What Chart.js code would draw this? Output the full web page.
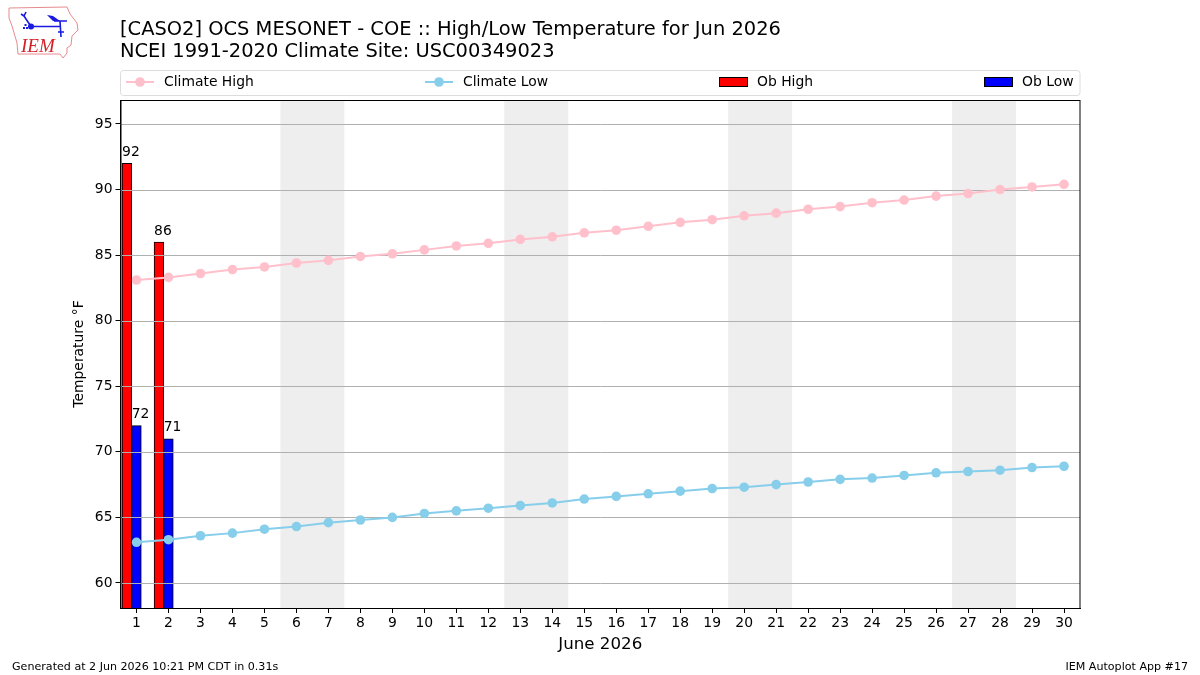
<!DOCTYPE html>
<html>
<head>
<meta charset="utf-8">
<title>High/Low Temperature</title>
<script src="https://cdn.jsdelivr.net/npm/chart.js@4"></script>
<style>
  html, body { margin: 0; padding: 0; background: #fff; }
  canvas { display: block; }
</style>
</head>
<body>
<canvas id="chart" width="1200" height="675"></canvas>
<script>
const days = [1, 2, 3, 4, 5, 6, 7, 8, 9, 10, 11, 12, 13, 14, 15, 16, 17, 18, 19, 20, 21, 22, 23, 24, 25, 26, 27, 28, 29, 30];
const climateHigh = [83.1, 83.3, 83.6, 83.9, 84.1, 84.4, 84.6, 84.9, 85.1, 85.4, 85.7, 85.9, 86.2, 86.4, 86.7, 86.9, 87.2, 87.5, 87.7, 88.0, 88.2, 88.5, 88.7, 89.0, 89.2, 89.5, 89.7, 90.0, 90.2, 90.4];
const climateLow = [63.1, 63.3, 63.6, 63.8, 64.1, 64.3, 64.6, 64.8, 65.0, 65.3, 65.5, 65.7, 65.9, 66.1, 66.4, 66.6, 66.8, 67.0, 67.2, 67.3, 67.5, 67.7, 67.9, 68.0, 68.2, 68.4, 68.5, 68.6, 68.8, 68.9];
const obHigh = [92, 86];
const obLow = [72, 71];
const yTicks = [60, 65, 70, 75, 80, 85, 90, 95];
const weekends = [[6, 7], [13, 14], [20, 21], [27, 28]];

const FONT = '"DejaVu Sans", sans-serif';
const titleLines = [
  "[CASO2] OCS MESONET - COE :: High/Low Temperature for Jun 2026",
  "NCEI 1991-2020 Climate Site: USC00349023",
];

// grey bands behind the weekends
const weekendBands = {
  id: "weekendBands",
  beforeDraw(chart) {
    const { ctx, chartArea, scales } = chart;
    const half = (scales.x.getPixelForValue(1) - scales.x.getPixelForValue(0)) / 2;
    ctx.save();
    ctx.fillStyle = "#eeeeee";
    weekends.forEach(([first, last]) => {
      const left = scales.x.getPixelForValue(days.indexOf(first)) - half;
      const right = scales.x.getPixelForValue(days.indexOf(last)) + half;
      ctx.fillRect(left, chartArea.top, right - left, chartArea.height);
    });
    ctx.restore();
  },
};

// horizontal grid goes over the bars but under the climate lines
const midGrid = {
  id: "midGrid",
  beforeDatasetDraw(chart, args) {
    if (args.meta.type !== "line" || args.index !== 1) return;
    const { ctx, chartArea, scales } = chart;
    ctx.save();
    ctx.strokeStyle = "#b0b0b0";
    ctx.lineWidth = 1;
    yTicks.forEach((t) => {
      const y = Math.round(scales.y.getPixelForValue(t)) + 0.5;
      ctx.beginPath();
      ctx.moveTo(chartArea.left, y);
      ctx.lineTo(chartArea.right, y);
      ctx.stroke();
    });
    ctx.restore();
  },
};

// value labels sit above the bars, left aligned with the bar edge
const barLabels = {
  id: "barLabels",
  afterDatasetsDraw(chart) {
    const { ctx } = chart;
    ctx.save();
    ctx.fillStyle = "#000";
    ctx.font = "13.9px " + FONT;
    ctx.textAlign = "left";
    ctx.textBaseline = "bottom";
    chart.data.datasets.forEach((ds, i) => {
      if (ds.type !== "bar") return;
      chart.getDatasetMeta(i).data.forEach((bar, j) => {
        if (ds.data[j] == null) return;
        ctx.fillText(String(ds.data[j]), bar.x - bar.width / 2, bar.y - 4);
      });
    });
    ctx.restore();
  },
};

const drawLogo = (ctx) => {
  ctx.save();
  ctx.strokeStyle = "#e58a8f";
  ctx.lineWidth = 1;
  ctx.beginPath();
  ctx.moveTo(9, 8);
  ctx.lineTo(67, 7);
  ctx.lineTo(70, 14);
  ctx.lineTo(77, 23);
  ctx.lineTo(78, 30);
  ctx.lineTo(72, 36);
  ctx.lineTo(71, 45);
  ctx.lineTo(67, 48);
  ctx.lineTo(67, 53);
  ctx.lineTo(63, 58);
  ctx.lineTo(60, 54);
  ctx.lineTo(18, 54);
  ctx.lineTo(17, 43);
  ctx.lineTo(12, 26);
  ctx.lineTo(9, 18);
  ctx.closePath();
  ctx.stroke();

  ctx.strokeStyle = "#1a1ae0";
  ctx.fillStyle = "#1a1ae0";
  ctx.lineWidth = 1.6;
  ctx.beginPath();
  ctx.moveTo(31, 26.5);
  ctx.lineTo(60, 26.5);
  ctx.moveTo(60, 21);
  ctx.lineTo(61, 37);
  ctx.moveTo(31, 26.5);
  ctx.lineTo(24, 16);
  ctx.moveTo(24, 16);
  ctx.lineTo(21, 14);
  ctx.moveTo(24, 16);
  ctx.lineTo(26, 12);
  ctx.moveTo(54, 21);
  ctx.lineTo(67, 21);
  ctx.moveTo(58, 32);
  ctx.lineTo(64, 32);
  ctx.stroke();
  ctx.beginPath();
  ctx.arc(31, 26.5, 3, 0, Math.PI * 2);
  ctx.fill();
  // wing shape above the main bar and the small marks left of the dot
  ctx.beginPath();
  ctx.moveTo(47, 15);
  ctx.lineTo(53, 16);
  ctx.lineTo(60, 21);
  ctx.lineTo(53, 21);
  ctx.closePath();
  ctx.fill();
  ctx.fillRect(23, 27, 2, 2);
  ctx.fillRect(26, 27, 2, 2);
  ctx.fillRect(24.5, 24, 2, 2);

  ctx.fillStyle = "#d42027";
  ctx.font = 'italic 19px "Liberation Serif", serif';
  ctx.textAlign = "left";
  ctx.textBaseline = "alphabetic";
  ctx.fillText("IEM", 21, 52);
  ctx.restore();
};

// header, legend box, footer and the axes frame
const pageFurniture = {
  id: "pageFurniture",
  afterDraw(chart) {
    const { ctx, chartArea } = chart;
    ctx.save();

    ctx.strokeStyle = "#000";
    ctx.lineWidth = 1;
    ctx.strokeRect(chartArea.left + 0.5, chartArea.top + 0.5, chartArea.width - 0.5, chartArea.height);

    drawLogo(ctx);

    ctx.fillStyle = "#000";
    ctx.textAlign = "left";
    ctx.textBaseline = "alphabetic";
    ctx.font = "19.44px " + FONT;
    ctx.fillText(titleLines[0], 120, 35);
    ctx.fillText(titleLines[1], 120, 57);

    ctx.strokeStyle = "#dcdcdc";
    ctx.beginPath();
    ctx.roundRect(120.5, 70.5, 959.5, 25, 3);
    ctx.stroke();

    ctx.font = "13.9px " + FONT;
    ctx.textBaseline = "middle";
    chart.data.datasets.forEach((ds) => {
      if (ds.legendX == null) return;
      const y = 82;
      const x = ds.legendX;
      if (ds.type === "line") {
        ctx.strokeStyle = ds.borderColor;
        ctx.lineWidth = 2;
        ctx.beginPath();
        ctx.moveTo(x, y);
        ctx.lineTo(x + 28, y);
        ctx.stroke();
        ctx.fillStyle = ds.borderColor;
        ctx.beginPath();
        ctx.arc(x + 14, y, 4.8, 0, Math.PI * 2);
        ctx.fill();
      } else {
        ctx.fillStyle = ds.backgroundColor;
        ctx.strokeStyle = "#000";
        ctx.lineWidth = 1;
        ctx.fillRect(x + 0.5, y - 4.5, 28, 9);
        ctx.strokeRect(x + 0.5, y - 4.5, 28, 9);
      }
      ctx.fillStyle = "#000";
      ctx.fillText(ds.label, x + 38, y);
    });

    ctx.font = "11.1px " + FONT;
    ctx.textBaseline = "alphabetic";
    ctx.fillText("Generated at 2 Jun 2026 10:21 PM CDT in 0.31s", 12, 670);
    ctx.textAlign = "right";
    ctx.fillText("IEM Autoplot App #17", 1188, 670);
    ctx.restore();
  },
};

new Chart(document.getElementById("chart"), {
  type: "bar",
  data: {
    labels: days,
    datasets: [
      {
        type: "line",
        label: "Climate High",
        data: climateHigh,
        borderColor: "pink",
        backgroundColor: "pink",
        borderWidth: 2,
        pointRadius: 4.8,
        pointBorderWidth: 0,
        tension: 0,
        order: 1,
        legendX: 126,
      },
      {
        type: "line",
        label: "Climate Low",
        data: climateLow,
        borderColor: "skyblue",
        backgroundColor: "skyblue",
        borderWidth: 2,
        pointRadius: 4.8,
        pointBorderWidth: 0,
        tension: 0,
        order: 1,
        legendX: 425,
      },
      {
        type: "bar",
        label: "Ob High",
        data: obHigh,
        backgroundColor: "#ff0000",
        borderColor: "#000",
        borderWidth: 1,
        borderSkipped: false,
        barThickness: 9.6,
        order: 2,
        legendX: 719,
      },
      {
        type: "bar",
        label: "Ob Low",
        data: obLow,
        backgroundColor: "#0000ff",
        borderColor: "#000",
        borderWidth: 1,
        borderSkipped: false,
        barThickness: 9.6,
        order: 2,
        legendX: 984,
      },
      // empty slot so the low bar is centred on its day and the high bar sits left of it
      {
        type: "bar",
        label: "",
        data: [],
        barThickness: 9.6,
        order: 2,
      },
    ],
  },
  options: {
    responsive: false,
    animation: false,
    layout: { padding: { top: 100, left: 0, right: 120, bottom: 0 } },
    plugins: {
      legend: { display: false },
      title: { display: false },
      tooltip: { enabled: false },
    },
    scales: {
      x: {
        offset: true,
        grid: { drawOnChartArea: false, drawTicks: true, tickLength: 5, tickColor: "#000", offset: false },
        border: { color: "#000" },
        ticks: { color: "#000", font: { family: FONT, size: 13.9 }, padding: 2, autoSkip: false, maxRotation: 0 },
        title: {
          display: true,
          text: "June 2026",
          color: "#000",
          font: { family: FONT, size: 16.67 },
          padding: { top: 0, bottom: 20 },
        },
        afterFit: (scale) => { scale.height = 67; },
      },
      y: {
        min: 58.09,
        max: 96.83,
        grid: { drawOnChartArea: false, drawTicks: true, tickLength: 5, tickColor: "#000" },
        border: { color: "#000" },
        afterBuildTicks: (scale) => { scale.ticks = yTicks.map((value) => ({ value })); },
        ticks: { color: "#000", font: { family: FONT, size: 13.9 }, padding: 3 },
        title: {
          display: true,
          text: "Temperature °F",
          color: "#000",
          font: { family: FONT, size: 13.9 },
          padding: { top: 71, bottom: 0 },
        },
        afterFit: (scale) => { scale.width = 120.5; },
      },
    },
  },
  plugins: [weekendBands, midGrid, barLabels, pageFurniture],
});
</script>
</body>
</html>
